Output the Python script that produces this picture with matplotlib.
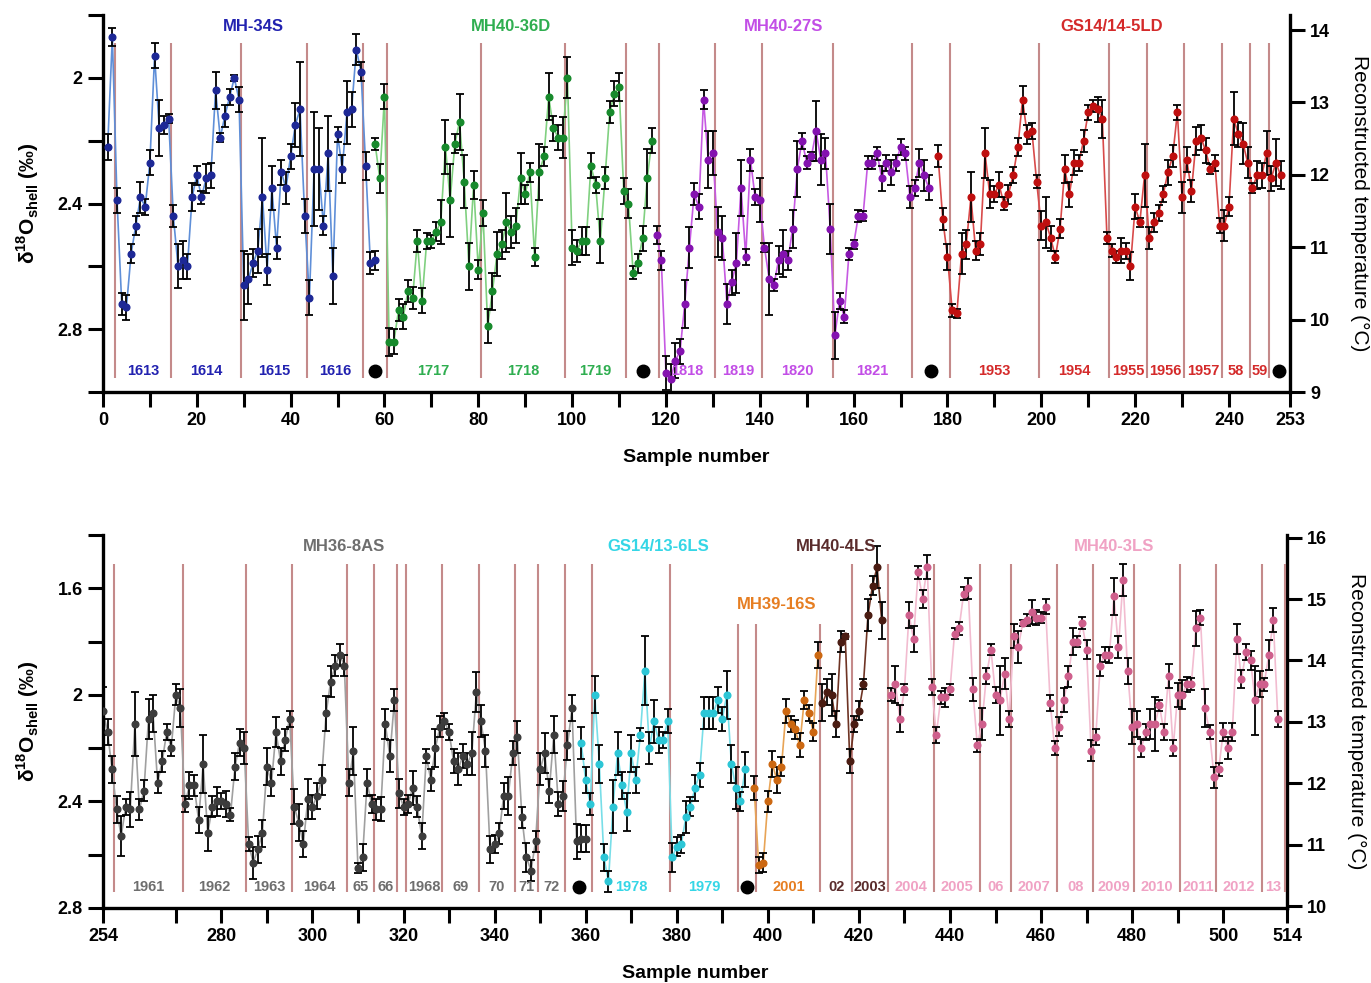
import numpy as np
import matplotlib
matplotlib.use("Agg")
import matplotlib.pyplot as plt

plt.rcParams['font.family'] = ['Liberation Sans', 'DejaVu Sans']
plt.rcParams['font.weight'] = 'bold'
plt.rcParams['mathtext.fontset'] = 'custom'
plt.rcParams['mathtext.rm'] = 'Liberation Sans'
plt.rcParams['mathtext.bf'] = 'Liberation Sans:bold'

# ---------------- upper panel (1613-1959) ----------------
mh34s_start = 1
mh34s_d18o = [2.22, 1.87, 2.39, 2.72, 2.73, 2.56, 2.47, 2.38, 2.41, 2.27,
              1.93, 2.16, 2.15, 2.13, 2.44, 2.60, 2.58, 2.60, 2.38, 2.31,
              2.38, 2.32, 2.31, 2.04, 2.19, 2.12, 2.06, 2.00, 2.07, 2.66,
              2.64, 2.59, 2.55, 2.38, 2.61, 2.35, 2.54, 2.30, 2.35, 2.25,
              2.15, 2.10, 2.44, 2.70, 2.29, 2.29, 2.47, 2.24, 2.63, 2.18,
              2.29, 2.11, 2.10, 1.91, 1.98, 2.28, 2.59, 2.58]
mh34s_err = [0.04, 0.03, 0.04, 0.035, 0.04, 0.03, 0.03, 0.05, 0.025, 0.04,
             0.04, 0.09, 0.03, 0.015, 0.035, 0.07, 0.06, 0.04, 0.045, 0.03,
             0.02, 0.045, 0.04, 0.06, 0.015, 0.035, 0.025, 0.01, 0.04, 0.11,
             0.08, 0.045, 0.07, 0.19, 0.05, 0.07, 0.035, 0.04, 0.05, 0.04,
             0.07, 0.15, 0.055, 0.055, 0.18, 0.13, 0.03, 0.12, 0.09, 0.025,
             0.045, 0.10, 0.055, 0.05, 0.03, 0.045, 0.035, 0.03]

mh4036d_start = 58
mh4036d_d18o = [2.21, 2.32, 2.06, 2.84, 2.84, 2.74, 2.76, 2.68, 2.70, 2.52,
                2.71, 2.52, 2.52, 2.49, 2.46, 2.22, 2.39, 2.21, 2.14, 2.33,
                2.60, 2.34, 2.61, 2.43, 2.79, 2.68, 2.56, 2.53, 2.46, 2.49,
                2.47, 2.32, 2.37, 2.30, 2.57, 2.30, 2.25, 2.06, 2.16, 2.19,
                2.19, 2.00, 2.54, 2.55, 2.52, 2.52, 2.28, 2.34, 2.52, 2.32,
                2.11, 2.05, 2.03, 2.36, 2.40, 2.62, 2.59, 2.51, 2.32, 2.20]
mh4036d_err = [0.02, 0.045, 0.04, 0.045, 0.04, 0.035, 0.04, 0.035, 0.035, 0.035,
               0.04, 0.025, 0.02, 0.03, 0.07, 0.085, 0.115, 0.03, 0.09, 0.085,
               0.075, 0.045, 0.03, 0.04, 0.055, 0.06, 0.07, 0.045, 0.095, 0.05,
               0.055, 0.08, 0.03, 0.03, 0.03, 0.09, 0.03, 0.075, 0.04, 0.04,
               0.065, 0.065, 0.055, 0.035, 0.045, 0.045, 0.04, 0.025, 0.07, 0.035,
               0.035, 0.04, 0.045, 0.04, 0.045, 0.02, 0.03, 0.04, 0.095, 0.04]

mh4027s_start = 118
mh4027s_d18o = [2.50, 2.58, 2.94, 2.96, 2.90, 2.87, 2.72, 2.54, 2.37, 2.41,
                2.07, 2.26, 2.24, 2.49, 2.51, 2.72, 2.65, 2.59, 2.35, 2.57,
                2.26, 2.38, 2.39, 2.54, 2.64, 2.66, 2.58, 2.56, 2.58, 2.48,
                2.29, 2.20, 2.27, 2.25, 2.17, 2.26, 2.24, 2.48, 2.82, 2.71,
                2.76, 2.56, 2.53, 2.44, 2.44, 2.27, 2.27, 2.24, 2.32, 2.27,
                2.30, 2.27, 2.22, 2.24, 2.38, 2.35, 2.27, 2.31, 2.35]
mh4027s_err = [0.03, 0.03, 0.055, 0.05, 0.055, 0.04, 0.075, 0.065, 0.035, 0.04,
               0.03, 0.09, 0.07, 0.08, 0.07, 0.065, 0.04, 0.095, 0.09, 0.025,
               0.035, 0.025, 0.07, 0.015, 0.115, 0.02, 0.045, 0.075, 0.03, 0.06,
               0.09, 0.025, 0.02, 0.015, 0.095, 0.08, 0.05, 0.08, 0.075, 0.025,
               0.02, 0.02, 0.015, 0.02, 0.015, 0.02, 0.02, 0.02, 0.04, 0.025,
               0.04, 0.025, 0.025, 0.02, 0.035, 0.025, 0.045, 0.05, 0.04]

gs14145ld_start = 178
gs14145ld_d18o = [2.25, 2.45, 2.57, 2.74, 2.75, 2.56, 2.53, 2.38, 2.55, 2.53,
                  2.24, 2.37, 2.37, 2.34, 2.40, 2.37, 2.31, 2.22, 2.07, 2.18,
                  2.17, 2.33, 2.47, 2.46, 2.51, 2.57, 2.48, 2.29, 2.37, 2.27,
                  2.27, 2.20, 2.11, 2.09, 2.10, 2.13, 2.51, 2.55, 2.57, 2.55,
                  2.55, 2.60, 2.41, 2.46, 2.31, 2.51, 2.46, 2.43, 2.37, 2.30,
                  2.25, 2.11, 2.38, 2.26, 2.36, 2.20, 2.19, 2.23, 2.29, 2.27,
                  2.47, 2.47, 2.41, 2.13, 2.18, 2.21, 2.27, 2.35, 2.31, 2.31,
                  2.24, 2.32, 2.27, 2.31]
gs14145ld_err = [0.035, 0.035, 0.04, 0.02, 0.015, 0.065, 0.045, 0.08, 0.03, 0.035,
                 0.08, 0.045, 0.025, 0.04, 0.02, 0.03, 0.025, 0.03, 0.045, 0.03,
                 0.025, 0.02, 0.045, 0.08, 0.04, 0.02, 0.03, 0.045, 0.04, 0.04,
                 0.025, 0.035, 0.025, 0.02, 0.04, 0.06, 0.02, 0.02, 0.02, 0.04,
                 0.025, 0.045, 0.04, 0.015, 0.10, 0.035, 0.03, 0.025, 0.025, 0.04,
                 0.035, 0.025, 0.05, 0.04, 0.035, 0.045, 0.04, 0.04, 0.015, 0.025,
                 0.025, 0.05, 0.03, 0.085, 0.04, 0.065, 0.05, 0.015, 0.045, 0.04,
                 0.07, 0.04, 0.075, 0.045]

top_bounds = [2.5, 14.5, 29.5, 43.5, 55.5, 60.5, 80.5, 98.5, 111.5, 118.5,
              130.5, 140.5, 155.5, 172.5, 180.5, 199.5, 214.5, 222.5, 230.5,
              238.5, 244.5, 248.5]
top_years = ['1613', '1614', '1615', '1616', None, '1717', '1718', '1719', None,
             '1818', '1819', '1820', '1821', None, '1953', '1954', '1955', '1956',
             '1957', '58', '59', None]
top_year_shell = ['MH-34S'] * 4 + [None] + ['MH40-36D'] * 3 + [None] + \
                 ['MH40-27S'] * 4 + [None] + ['GS14/14-5LD'] * 7 + [None]

# ---------------- lower panel (1961-2013) ----------------
mh368as_start = 254
mh368as_d18o = [2.06, 2.14, 2.28, 2.43, 2.53, 2.42, 2.43, 2.11, 2.43, 2.36,
                2.09, 2.07, 2.33, 2.25, 2.14, 2.20, 2.00, 2.05, 2.41, 2.34,
                2.34, 2.47, 2.26, 2.52, 2.42, 2.40, 2.40, 2.41, 2.45, 2.27,
                2.18, 2.20, 2.56, 2.63, 2.58, 2.52, 2.27, 2.33, 2.14, 2.25,
                2.17, 2.09, 2.42, 2.48, 2.56, 2.39, 2.42, 2.38, 2.32, 2.07,
                1.95, 1.89, 1.85, 1.89, 2.33, 2.21, 2.65, 2.61, 2.33, 2.41,
                2.43, 2.43, 2.11, 2.23, 2.02, 2.37, 2.42, 2.41, 2.35, 2.42,
                2.53, 2.23, 2.32, 2.20, 2.12, 2.10, 2.14, 2.25, 2.28, 2.23,
                2.26, 2.22, 1.99, 2.10, 2.21, 2.58, 2.56, 2.52, 2.38, 2.38,
                2.22, 2.16, 2.46, 2.61, 2.66, 2.55, 2.28, 2.22, 2.36, 2.15,
                2.41, 2.38, 2.19, 2.05, 2.55, 2.54, 2.54]
mh368as_err = [0.09, 0.05, 0.05, 0.05, 0.075, 0.03, 0.065, 0.12, 0.04, 0.04,
               0.075, 0.07, 0.04, 0.04, 0.03, 0.03, 0.04, 0.07, 0.03, 0.05,
               0.04, 0.05, 0.11, 0.065, 0.04, 0.055, 0.03, 0.05, 0.025, 0.05,
               0.05, 0.06, 0.025, 0.06, 0.05, 0.05, 0.07, 0.05, 0.055, 0.05,
               0.04, 0.03, 0.065, 0.07, 0.05, 0.075, 0.045, 0.05, 0.055, 0.065,
               0.06, 0.04, 0.04, 0.04, 0.05, 0.09, 0.02, 0.05, 0.05, 0.035,
               0.04, 0.045, 0.055, 0.06, 0.04, 0.055, 0.03, 0.035, 0.065, 0.04,
               0.05, 0.025, 0.04, 0.07, 0.04, 0.03, 0.03, 0.045, 0.06, 0.045,
               0.04, 0.08, 0.075, 0.06, 0.06, 0.05, 0.035, 0.04, 0.05, 0.07,
               0.045, 0.06, 0.04, 0.055, 0.04, 0.04, 0.06, 0.075, 0.045, 0.07,
               0.045, 0.055, 0.055, 0.05, 0.065, 0.05, 0.05]

gs14136ls_start = 359
gs14136ls_d18o = [2.18, 2.32, 2.41, 2.00, 2.26, 2.61, 2.70, 2.42, 2.22, 2.34,
                  2.44, 2.22, 2.32, 2.15, 1.91, 2.20, 2.10, 2.17, 2.17, 2.10,
                  2.61, 2.57, 2.56, 2.46, 2.42, 2.35, 2.30, 2.07, 2.07, 2.07,
                  2.02, 2.09, 2.00, 2.26, 2.35, 2.40, 2.28]
gs14136ls_err = [0.06, 0.05, 0.04, 0.07, 0.07, 0.05, 0.04, 0.10, 0.08, 0.05,
                 0.07, 0.07, 0.05, 0.025, 0.13, 0.06, 0.08, 0.05, 0.03, 0.045,
                 0.055, 0.035, 0.035, 0.06, 0.035, 0.05, 0.045, 0.06, 0.06, 0.06,
                 0.05, 0.045, 0.09, 0.07, 0.08, 0.035, 0.065]

mh3916s_start = 397
mh3916s_d18o = [2.35, 2.64, 2.63, 2.40, 2.26, 2.32, 2.27, 2.06, 2.11, 2.13,
                2.19, 2.02, 2.07, 2.14, 1.85]
mh3916s_err = [0.045, 0.03, 0.035, 0.04, 0.05, 0.05, 0.035, 0.045, 0.03, 0.035,
               0.045, 0.035, 0.03, 0.035, 0.05]

mh404ls_start = 412
mh404ls_d18o = [2.03, 1.99, 2.00, 2.11, 1.80, 1.78, 2.25, 2.11, 2.06, 1.96,
                1.70, 1.59, 1.52, 1.72]
mh404ls_err = [0.07, 0.05, 0.08, 0.05, 0.04, 0.01, 0.045, 0.03, 0.035, 0.02,
               0.06, 0.035, 0.08, 0.07]

mh403ls_start = 427
mh403ls_d18o = [2.00, 1.96, 2.09, 1.98, 1.70, 1.79, 1.54, 1.64, 1.52, 1.97,
                2.15, 2.01, 2.01, 1.98, 1.77, 1.75, 1.62, 1.60, 1.98, 2.19,
                2.11, 1.93, 1.83, 2.00, 2.02, 1.92, 2.09, 1.78, 1.82, 1.73,
                1.72, 1.69, 1.71, 1.71, 1.67, 2.03, 2.20, 2.12, 2.02, 1.93,
                1.80, 1.80, 1.73, 1.83, 2.21, 2.16, 1.89, 1.85, 1.85, 1.63,
                1.82, 1.57, 1.91, 2.12, 2.11, 2.20, 2.14, 2.11, 2.11, 2.04,
                2.14, 1.93, 2.20, 2.00, 2.00, 1.96, 1.96, 1.75, 1.71, 2.05,
                2.14, 2.31, 2.28, 2.14, 2.20, 2.14, 1.79, 1.94, 1.84, 1.87,
                2.02, 1.96, 1.96, 1.85, 1.72, 2.09]
mh403ls_err = [0.025, 0.07, 0.05, 0.02, 0.05, 0.05, 0.025, 0.035, 0.045, 0.03,
               0.03, 0.025, 0.035, 0.02, 0.02, 0.025, 0.025, 0.04, 0.045, 0.025,
               0.06, 0.03, 0.02, 0.03, 0.13, 0.06, 0.03, 0.045, 0.06, 0.012,
               0.022, 0.045, 0.028, 0.02, 0.028, 0.03, 0.025, 0.035, 0.045, 0.04,
               0.05, 0.02, 0.022, 0.035, 0.04, 0.03, 0.04, 0.028, 0.03, 0.07,
               0.04, 0.06, 0.05, 0.065, 0.05, 0.035, 0.03, 0.055, 0.10, 0.022,
               0.03, 0.045, 0.03, 0.045, 0.055, 0.028, 0.022, 0.065, 0.028, 0.07,
               0.025, 0.04, 0.025, 0.035, 0.04, 0.035, 0.055, 0.035, 0.03, 0.035,
               0.13, 0.05, 0.025, 0.055, 0.045, 0.03]

bot_bounds = [256.5, 271.5, 285.5, 295.5, 307.5, 313.5, 318.5, 320.5, 328.5,
              336.5, 344.5, 349.5, 355.5, 361.5, 378.5, 393.5, 397.5, 411.5,
              418.5, 426.5, 436.5, 446.5, 453.5, 463.5, 471.5, 480.5, 490.5,
              498.5, 508.5, 513.5]
bot_short_bounds = [393.5, 397.5, 411.5]
bot_years = ['1961', '1962', '1963', '1964', '65', '66', '', '1968', '69', '70',
             '71', '72', None, '1978', '1979', None, '2001', '02', '2003', '2004',
             '2005', '06', '2007', '08', '2009', '2010', '2011', '2012', '13']
bot_year_shell = ['MH36-8AS'] * 12 + [None] + ['GS14/13-6LS'] * 2 + [None] + \
                 ['MH39-16S'] + ['MH40-4LS'] * 2 + ['MH40-3LS'] * 10

# marker colour, line colour, label colour
palette = {
    'MH-34S': ('#1d2896', '#5f8fd8', '#2222b0'),
    'MH40-36D': ('#178a2c', '#80d080', '#2fae50'),
    'MH40-27S': ('#8412b0', '#c65ae2', '#c24ee6'),
    'GS14/14-5LD': ('#bf0f0f', '#d84a4a', '#d42a2a'),
    'MH36-8AS': ('#3c3c3c', '#a0a0a0', '#6e6e6e'),
    'GS14/13-6LS': ('#2cc6d6', '#78dee8', '#35d6e6'),
    'MH39-16S': ('#cc6812', '#e8a456', '#e67e22'),
    'MH40-4LS': ('#4a1c12', '#6e3424', '#5a2c2c'),
    'MH40-3LS': ('#cf5f8c', '#f2bcd0', '#f0a2c4'),
}
# where each shell name sits (sample number, d18O)
title_pos = {
    'MH-34S': (32, 1.835), 'MH40-36D': (87, 1.835), 'MH40-27S': (145, 1.835),
    'GS14/14-5LD': (215, 1.835), 'MH36-8AS': (307, 1.443),
    'GS14/13-6LS': (376, 1.443), 'MH39-16S': (402, 1.66),
    'MH40-4LS': (415, 1.443), 'MH40-3LS': (476, 1.443),
}

top_series = [('MH-34S', mh34s_start, mh34s_d18o, mh34s_err),
              ('MH40-36D', mh4036d_start, mh4036d_d18o, mh4036d_err),
              ('MH40-27S', mh4027s_start, mh4027s_d18o, mh4027s_err),
              ('GS14/14-5LD', gs14145ld_start, gs14145ld_d18o, gs14145ld_err)]
bot_series = [('MH36-8AS', mh368as_start, mh368as_d18o, mh368as_err),
              ('GS14/13-6LS', gs14136ls_start, gs14136ls_d18o, gs14136ls_err),
              ('MH39-16S', mh3916s_start, mh3916s_d18o, mh3916s_err),
              ('MH40-4LS', mh404ls_start, mh404ls_d18o, mh404ls_err),
              ('MH40-3LS', mh403ls_start, mh403ls_d18o, mh403ls_err)]

BOUND_COLOR = '#c48a8a'


def draw_panel(ax, series, bounds, years, shells, xmax, line_span, short_top,
               short_bounds, year_y):
    for b in bounds:
        top = short_top if b in short_bounds else line_span[0]
        ax.vlines(b, top, line_span[1], color=BOUND_COLOR, lw=1.5, zorder=1)

    for name, start, vals, errs in series:
        x = start + np.arange(len(vals))
        mc, lc, tc = palette[name]
        ax.plot(x, vals, color=lc, lw=1.2, zorder=2)
        ax.errorbar(x, vals, yerr=errs, fmt='none', ecolor='black',
                    elinewidth=1.3, capsize=3, capthick=1.3, zorder=3)
        ax.plot(x, vals, 'o', ms=4.8, color=mc, zorder=4)
        tx, ty = title_pos[name]
        ax.text(tx, ty, name, color=tc, fontsize=12, fontweight='bold',
                ha='center', va='center')

    edges = list(bounds) + [xmax]
    for i, (lab, shell) in enumerate(zip(years, shells)):
        mid = (edges[i] + edges[i + 1]) / 2
        if shell is None:
            ax.plot(mid, year_y, 'o', color='black', ms=9, zorder=5)
        elif lab:
            ax.text(mid, year_y, lab, color=palette[shell][2], fontsize=10.5,
                    fontweight='bold', ha='center', va='center')


def style_axes(ax, xticks, xlabels, yticks, ylabels):
    for side in ('left', 'bottom'):
        ax.spines[side].set_linewidth(2.4)
    ax.spines['top'].set_visible(False)
    ax.spines['right'].set_visible(False)
    ax.set_xticks(xticks)
    ax.set_xticklabels(xlabels)
    ax.set_yticks(yticks)
    ax.set_yticklabels(ylabels)
    ax.tick_params(direction='out', length=11, width=2.2, labelsize=13)
    ax.set_xlabel('Sample number', fontsize=14, fontweight='bold', labelpad=14)
    ax.set_ylabel('δ$^{\\mathbf{18}}$O$_{\\mathbf{shell}}$ (‰)', fontsize=15,
                  fontweight='bold')
    ax.yaxis.set_label_coords(-0.052, 0.5)


def temp_axis(ax, a, ticks):
    k = 4.34
    sec = ax.secondary_yaxis('right', functions=(lambda d: a - k * d,
                                                 lambda t: (a - t) / k))
    sec.set_yticks(ticks)
    sec.spines['right'].set_linewidth(2.4)
    sec.tick_params(direction='out', length=11, width=2.2, labelsize=13)
    sec.set_ylabel('Reconstructed temperature (°C)', rotation=270, fontsize=15,
                   fontweight='normal', labelpad=28)
    return sec


fig = plt.figure(figsize=(13.71, 9.83), dpi=100)

ax1 = fig.add_axes([0.0751, 0.6012, 0.8658, 0.3835])
ax1.set_xlim(0, 253)
ax1.set_ylim(3.0, 1.8)
draw_panel(ax1, top_series, top_bounds, top_years, top_year_shell, 253,
           (1.89, 2.955), 1.89, [], 2.934)
xt = list(range(0, 241, 10)) + [253]
style_axes(ax1, xt, [str(t) if t % 20 == 0 or t == 253 else '' for t in xt],
           [1.8, 2.0, 2.2, 2.4, 2.6, 2.8, 3.0], ['', '2', '', '2.4', '', '2.8', ''])
temp_axis(ax1, 22.02, range(9, 15))

ax2 = fig.add_axes([0.0751, 0.0763, 0.8636, 0.3795])
ax2.set_xlim(254, 514)
ax2.set_ylim(2.8, 1.4)
draw_panel(ax2, bot_series, bot_bounds, bot_years, bot_year_shell, 514,
           (1.51, 2.74), 1.735, bot_short_bounds, 2.72)
xt = [254] + list(range(270, 501, 10)) + [514]
style_axes(ax2, xt, [str(t) if t % 20 == 0 or t in (254, 514) else '' for t in xt],
           [1.4, 1.6, 1.8, 2.0, 2.2, 2.4, 2.6, 2.8],
           ['', '1.6', '', '2', '', '2.4', '', '2.8'])
temp_axis(ax2, 22.12, range(10, 17))

fig.savefig('out.png', dpi=100)
